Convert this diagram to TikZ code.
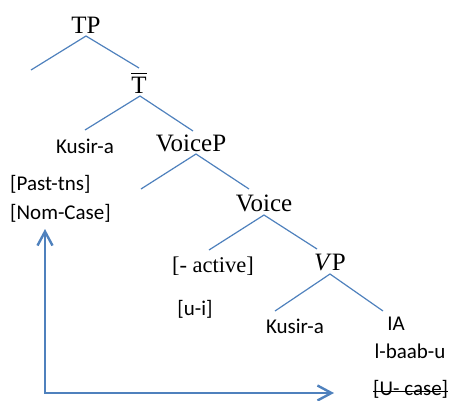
\documentclass[tikz,border=0pt]{standalone}
\usepackage{fontspec}
\setmainfont{Liberation Serif}
\newfontfamily\glossfont{Carlito}
\usetikzlibrary{arrows.meta}
\definecolor{treeblue}{HTML}{4F81BD}
\begin{document}
\begin{tikzpicture}[x=1pt,y=-1pt,
  cat/.style={font=\fontsize{25}{29}\selectfont, inner sep=0pt, anchor=base},
  feat/.style={font=\fontsize{22.5}{27}\selectfont, inner sep=0pt, anchor=base},
  lex/.style={font=\glossfont\fontsize{21}{25}\selectfont, inner sep=0pt, anchor=base},
  branch/.style={draw=treeblue, line width=1.2pt},
  link/.style={draw=treeblue, line width=2.4pt,
    {Straight Barb[length=14pt,width=15pt]}-{Straight Barb[length=14pt,width=15pt]}},
  strike/.style={draw=black, line width=1pt},
  bar/.style={draw=black, line width=1.3pt}
]
\useasboundingbox (0,0) rectangle (451,400);
\clip (0,0) rectangle (451,400);

% category labels
\node[cat] (tp) at (86,33) {TP};
\node[cat] (tbar) at (139,93) {T};
\draw[bar] ([yshift=3pt]tbar.north west) -- ([yshift=3pt]tbar.north east);
\node[cat] (voicep) at (191,151) {VoiceP};
\node[cat] (voice) at (264,211) {Voice};
\node[feat] (active) at (213,272) {[- active]};
\node[cat] (vp) at (330,270) {\textit{V}P};

% lexical items and features
\node[lex] (kusirT) at (85,153) {Kusir-a};
\node[lex, anchor=base west] (past) at (10,190) {[Past-tns]};
\node[lex, anchor=base west] (nom) at (10,219) {[Nom-Case]};
\node[lex] (ui) at (195,315) {[u-i]};
\node[lex] (kusirV) at (295,333) {Kusir-a};
\node[lex] (ia) at (396,330) {IA};
\node[lex] (baab) at (410,358) {l-baab-u};
\node[lex, anchor=base west] (ucase) at (373,395) {[U- case]};
\draw[strike] ([yshift=4pt]ucase.base west) -- ([yshift=4pt]ucase.base east);

% branch end points
\coordinate (tpA) at (86,36);   \coordinate (tpL) at (31,70);   \coordinate (tpR) at (139,68);
\coordinate (tbA) at (140,96);  \coordinate (tbL) at (85,130);  \coordinate (tbR) at (193,131);
\coordinate (vpA) at (196,154); \coordinate (vpL) at (141,189); \coordinate (vpR) at (249,189);
\coordinate (vA) at (264,215);  \coordinate (vL) at (209,250);  \coordinate (vR) at (317,249);
\coordinate (VA) at (330,274);  \coordinate (VL) at (275,311);  \coordinate (VR) at (383,311);

\draw[branch] (tpL) -- (tpA) -- (tpR);
\draw[branch] (tbL) -- (tbA) -- (tbR);
\draw[branch] (vpL) -- (vpA) -- (vpR);
\draw[branch] (vL) -- (vA) -- (vR);
\draw[branch] (VL) -- (VA) -- (VR);

% agreement arrow
\coordinate (nomTip) at (45,229);
\coordinate (caseTip) at (334,393);
\draw[link] (nomTip) |- (caseTip);
\end{tikzpicture}
\end{document}
